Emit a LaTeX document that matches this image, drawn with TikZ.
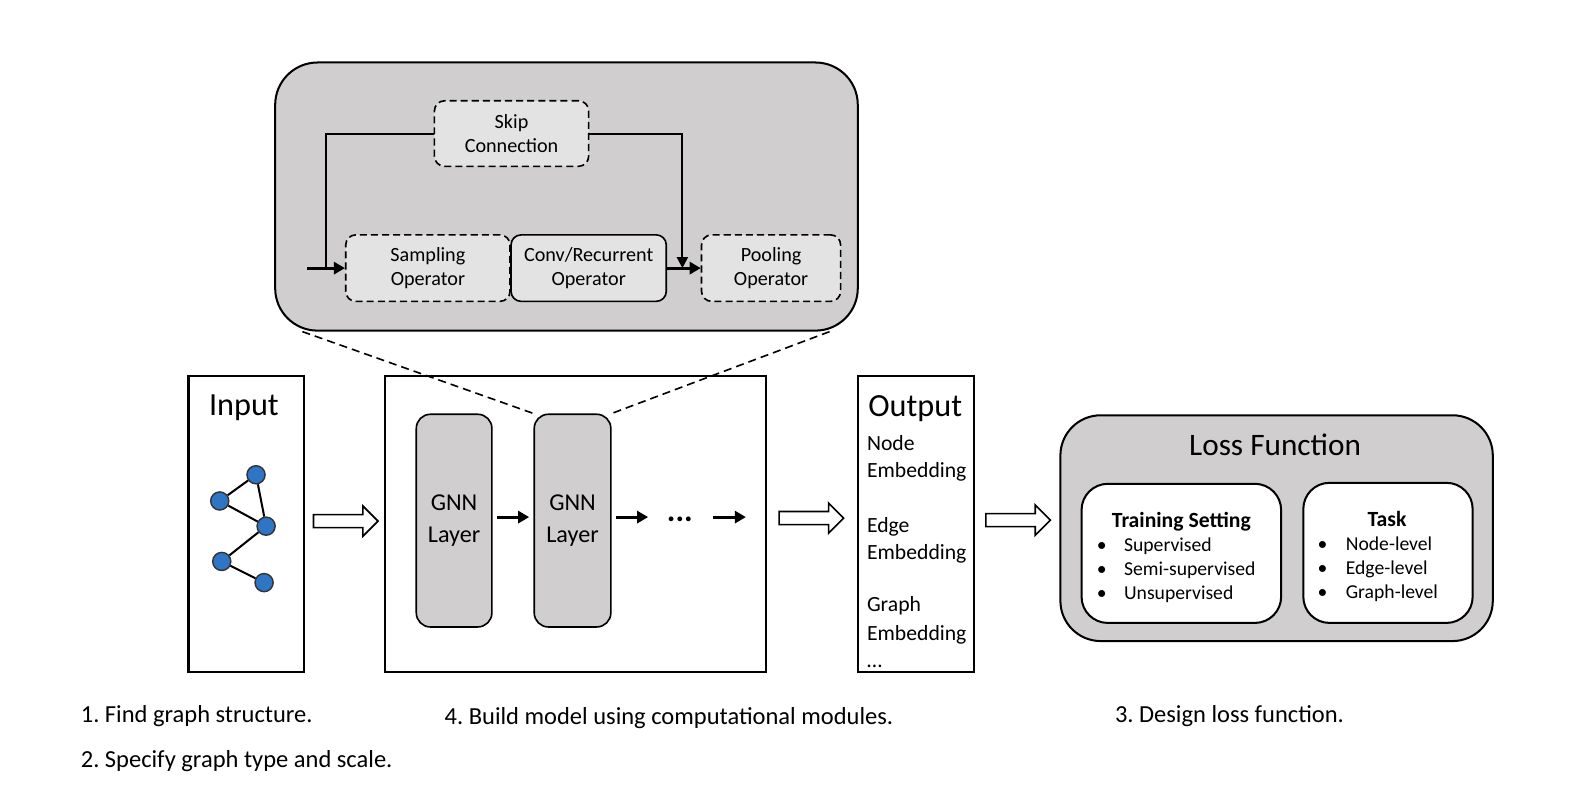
\documentclass[tikz,border=0pt]{standalone}
\usepackage{fontspec}
\setmainfont{Carlito}
\usetikzlibrary{arrows.meta}
\definecolor{boxgray}{HTML}{D0CECE}
\definecolor{lightgray}{HTML}{E4E3E3}
\definecolor{nodeblue}{HTML}{2E75C6}
\tikzset{
  frame/.style={draw=black, line width=2pt, inner sep=0pt, align=center},
  bigrounded/.style={frame, fill=boxgray, rounded corners=42pt},
  opbox/.style={frame, line width=1.6pt, fill=lightgray, rounded corners=10pt, font=\fontsize{20}{24}\selectfont},
  dashbox/.style={opbox, dash pattern=on 7pt off 4pt},
  layerbox/.style={frame, line width=1.6pt, fill=boxgray, rounded corners=14pt, font=\fontsize{24}{31}\selectfont},
  whitebox/.style={frame, fill=white, rounded corners=26pt},
  thickarrow/.style={line width=3pt, -{Triangle[length=11pt,width=12pt]}},
  thinline/.style={line width=2pt},
  gnode/.style={circle, draw=black!80, line width=1.4pt, fill=nodeblue, minimum size=18pt, inner sep=0pt},
  hollow/.style={draw=black, line width=1.6pt, fill=white},
  plain/.style={inner sep=0pt, anchor=base west},
  caption/.style={plain, font=\fontsize{24.3}{28}\selectfont},
}
\newcommand\harrow[2]{%
  \draw[hollow] (#1,#2+6.5) -- ++(49,0) -- ++(0,8.5) -- ++(15,-15) -- ++(-15,-15) -- ++(0,8.5) -- ++(-49,0) -- cycle;}
\begin{document}
\frenchspacing
\begin{tikzpicture}[x=1pt,y=-1pt]
\useasboundingbox (0,0) rectangle (1568.5,804.6);

% ---------- top zoomed module ----------
\node[bigrounded, minimum width=578pt, minimum height=266pt] (top) at (562,195) {};
\node[dashbox, minimum width=153pt, minimum height=65pt] (skip) at (507.5,132.5) {Skip\\Connection};
\node[dashbox, minimum width=163pt, minimum height=66pt] (samp) at (424.5,266) {Sampling\\Operator};
\node[opbox, minimum width=154pt, minimum height=66pt] (conv) at (584,266) {Conv/Recurrent\\Operator};
\node[dashbox, minimum width=138pt, minimum height=66pt] (pool) at (765,266) {Pooling\\Operator};

\coordinate (in) at (305,266);
\coordinate (jl) at (323,266);
\coordinate (jr) at (677,266);
\draw[thickarrow] (in) -- (samp.west);
\draw[thinline] (skip.west) -| (jl);
\draw[thinline, -{Triangle[length=11pt,width=11pt]}] (skip.east) -| (jr);
\draw[thickarrow] (conv.east) -- (pool.west);

% ---------- input ----------
\node[frame, minimum width=115pt, minimum height=294pt] (input) at (244.5,520) {};
\node[font=\fontsize{32}{36}\selectfont] (inputlbl) at (242,405) {Input};
\node[gnode] (g1) at (254,471) {};
\node[gnode] (g2) at (218,497) {};
\node[gnode] (g3) at (264,522) {};
\node[gnode] (g4) at (220,557) {};
\node[gnode] (g5) at (262,578) {};
\draw[thinline] (g1) -- (g2) (g2) -- (g3) (g1) -- (g3) (g3) -- (g4) (g4) -- (g5);

\harrow{311}{517}

% ---------- model ----------
\node[frame, minimum width=378pt, minimum height=294pt] (model) at (571,520) {};
\node[layerbox, minimum width=75pt, minimum height=211pt] (l1) at (450.5,516.5) {GNN\\Layer};
\node[layerbox, minimum width=76pt, minimum height=211pt] (l2) at (568,516.5) {GNN\\Layer};
\coordinate (a1s) at (493,513);
\coordinate (a1e) at (525,513);
\coordinate (a3s) at (611,513);
\coordinate (a3e) at (643,513);
\node[anchor=base, inner sep=0pt, font=\bfseries\fontsize{32}{36}\selectfont] (dots) at (674.5,517) {...};
\coordinate (a4s) at (707,513);
\coordinate (a4e) at (740,513);
\draw[thickarrow] (a1s) -- (a1e);
\draw[thickarrow] (a3s) -- (a3e);
\draw[thickarrow] (a4s) -- (a4e);

% zoom lines
\coordinate (zl) at (300,329);
\coordinate (zr) at (823,329);
\draw[line width=1.6pt, dash pattern=on 8pt off 5pt] (zl) -- (l2.north west);
\draw[line width=1.6pt, dash pattern=on 8pt off 5pt] (zr) -- (l2.north east);

\harrow{773}{514}

% ---------- output ----------
\node[frame, minimum width=115pt, minimum height=294pt] (output) at (908.5,520) {};
\node[font=\fontsize{32}{36}\selectfont] (outlbl) at (908,405) {Output};
\node[plain, align=left, anchor=north west, font=\fontsize{21.5}{26.5}\selectfont] (outlist) at (860,432)
  {Node\\Embedding\\[28pt]Edge\\Embedding\\[26pt]Graph\\[1.5pt]Embedding\\[1pt]\dots};

\harrow{978}{516}

% ---------- loss ----------
\node[bigrounded, rounded corners=40pt, minimum width=429pt, minimum height=224pt] (loss) at (1266.5,524) {};
\node[font=\fontsize{31}{36}\selectfont] (losslbl) at (1265,441) {Loss Function};
\node[whitebox, minimum width=198pt, minimum height=138pt] (train) at (1172,549) {};
\node[whitebox, minimum width=168pt, minimum height=139pt] (task) at (1377,548.5) {};
\node[font=\bfseries\fontsize{21.5}{24}\selectfont] (trainlbl) at (1172,518) {Training Setting};
\node[plain, anchor=north west, align=left, font=\fontsize{19.5}{23.8}\selectfont] (trainlist) at (1088,533)
  {\makebox[27pt][l]{•}Supervised\\\makebox[27pt][l]{•}Semi-supervised\\\makebox[27pt][l]{•}Unsupervised};
\node[font=\bfseries\fontsize{21.5}{24}\selectfont] (tasklbl) at (1376,515) {Task};
\node[plain, anchor=north west, align=left, font=\fontsize{19.5}{23.8}\selectfont] (tasklist) at (1307,532)
  {\makebox[28pt][l]{•}Node-level\\\makebox[28pt][l]{•}Edge-level\\\makebox[28pt][l]{•}Graph-level};

% ---------- bottom captions ----------
\node[caption] (c1) at (80,717) {1. Find graph structure.};
\node[caption] (c2) at (80,761) {2. Specify graph type and scale.};
\node[caption] (c4) at (441,719) {4. Build model using computational modules.};
\node[caption] (c3) at (1106,717) {3. Design loss function.};
\end{tikzpicture}
\end{document}
